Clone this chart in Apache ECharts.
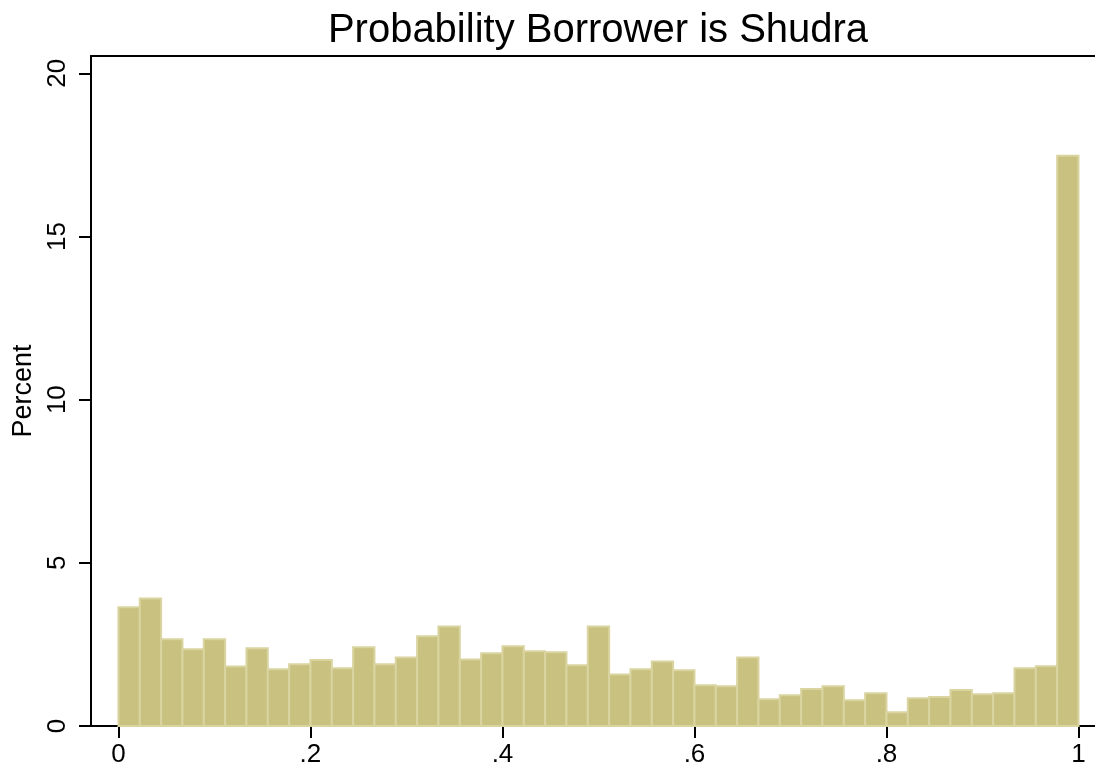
<!DOCTYPE html>
<html><head><meta charset="utf-8">
<script src="https://cdn.jsdelivr.net/npm/echarts@6/dist/echarts.min.js"></script>
<style>html,body{margin:0;padding:0;background:#fff}#c{width:1095px;height:774px}</style>
</head><body><div id="c"></div>
<script>
const chartTitle = 'Probability Borrower is Shudra';
const yName = 'Percent';
const binStart = 0, binEnd = 1;
const percents = [3.64,3.91,2.66,2.35,2.66,1.82,2.38,1.74,1.89,2.02,1.77,2.41,1.89,2.10,2.75,
  3.05,2.04,2.23,2.44,2.29,2.26,1.86,3.05,1.58,1.74,1.98,1.71,1.25,1.22,2.10,
  0.82,0.94,1.13,1.22,0.79,1.00,0.42,0.85,0.89,1.10,0.97,1.00,1.77,1.83,17.47];
const xTickValues = [0,0.2,0.4,0.6,0.8,1];
const xTickLabels = ['0','.2','.4','.6','.8','1'];
const yTickValues = [0,5,10,15,20];
const yTickLabels = ['0','5','10','15','20'];

const FONT = '"Liberation Sans", Arial, Helvetica, sans-serif';
const binW = (binEnd - binStart) / percents.length;
const histData = percents.map((v, i) => [binStart + i * binW, binStart + (i + 1) * binW, v]);

const chart = echarts.init(document.getElementById('c'), null, {renderer: 'canvas'});
chart.setOption({
  animation: false,
  backgroundColor: '#fff',
  title: {
    text: chartTitle, left: 593, top: 6, textAlign: 'center',
    textStyle: {fontFamily: FONT, fontSize: 40, fontWeight: 'normal', color: '#000'}
  },
  grid: {left: 91, right: 0, top: 56, bottom: 48, containLabel: false},
  xAxis: [{
    type: 'value', min: -0.0286, max: 1.0172,
    axisLine: {show: true, onZero: false, lineStyle: {color: '#000', width: 2}},
    axisTick: {show: true, length: 12, inside: false, customValues: xTickValues, lineStyle: {color: '#000', width: 2}},
    axisLabel: {customValues: xTickValues, margin: 16, fontFamily: FONT, fontSize: 26, color: '#000',
      formatter: v => { const i = xTickValues.findIndex(t => Math.abs(t - v) < 1e-9); return i >= 0 ? xTickLabels[i] : ''; }},
    splitLine: {show: false}
  }, {
    type: 'value', position: 'top', min: -0.0286, max: 1.0172,
    axisLine: {show: true, onZero: false, lineStyle: {color: '#000', width: 2}},
    axisTick: {show: false}, axisLabel: {show: false}, splitLine: {show: false}
  }],
  yAxis: {
    type: 'value', min: 0, max: 20.53, position: 'left',
    name: yName, nameLocation: 'middle', nameGap: 54, nameRotate: 90,
    nameTextStyle: {fontFamily: FONT, fontSize: 27, color: '#000'},
    axisLine: {show: true, onZero: false, lineStyle: {color: '#000', width: 2}},
    axisTick: {show: true, length: 12, customValues: yTickValues, lineStyle: {color: '#000', width: 2}},
    axisLabel: {customValues: yTickValues, rotate: 90, margin: 20, fontFamily: FONT, fontSize: 26, color: '#000',
      formatter: v => { const i = yTickValues.findIndex(t => Math.abs(t - v) < 1e-9); return i >= 0 ? yTickLabels[i] : ''; }},
    splitLine: {show: false}
  },
  series: [{
    type: 'custom',
    xAxisIndex: 0,
    data: histData,
    encode: {x: [0, 1], y: 2},
    renderItem: function (params, api) {
      const p0 = api.coord([api.value(0), api.value(2)]);
      const p1 = api.coord([api.value(1), 0]);
      return {
        type: 'rect',
        shape: {x: p0[0], y: p0[1], width: p1[0] - p0[0], height: p1[1] - p0[1]},
        style: {fill: '#c9c180', stroke: '#d9d4a0', lineWidth: 2}
      };
    }
  }]
});
</script></body></html>
